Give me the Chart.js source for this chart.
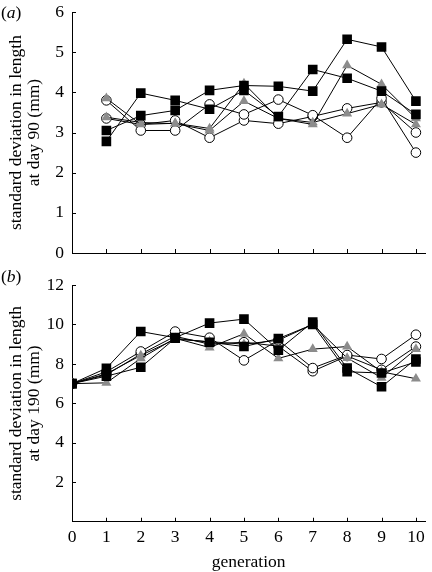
<!DOCTYPE html>
<html>
<head>
<meta charset="utf-8">
<script src="https://cdn.jsdelivr.net/npm/chart.js@4.4.1/dist/chart.umd.min.js"></script>
<style>
  html, body { margin: 0; padding: 0; background: #fff; }
  #wrap { position: relative; width: 432px; height: 572px; }
  canvas { position: absolute; left: 0; }
</style>
</head>
<body>
<div id="wrap">
  <canvas id="ca" width="432" height="264" style="top:0"></canvas>
  <canvas id="cb" width="432" height="308" style="top:264px"></canvas>
</div>
<script>
// ---- data ----
const generationsA = [1, 2, 3, 4, 5, 6, 7, 8, 9, 10];
const generationsB = [0, 1, 2, 3, 4, 5, 6, 7, 8, 9, 10];

// panel (a): standard deviation in length at day 90 (mm)
const aSquare1 = [3.05, 3.42, 3.55, 4.05, 4.17, 4.15, 4.03, 5.32, 5.13, 3.78];
const aSquare2 = [2.78, 3.98, 3.80, 3.58, 4.05, 3.40, 4.57, 4.35, 4.03, 3.45];
const aTriangle1 = [3.85, 3.20, 3.23, 3.10, 4.22, 3.35, 3.20, 4.67, 4.20, 3.35];
const aTriangle2 = [3.38, 3.25, 3.22, 3.05, 3.78, 3.35, 3.25, 3.47, 3.70, 3.20];
const aCircle1 = [3.80, 3.05, 3.05, 3.70, 3.45, 3.82, 3.43, 2.87, 3.85, 2.50];
const aCircle2 = [3.35, 3.20, 3.30, 2.87, 3.30, 3.22, 3.40, 3.60, 3.75, 3.00];

// panel (b): standard deviation in length at day 190 (mm)
const bSquare1 = [7.0, 7.78, 9.64, 9.33, 10.07, 10.27, 8.70, 10.12, 7.79, 6.84, 8.25];
const bSquare2 = [7.0, 7.38, 7.83, 9.30, 9.10, 8.88, 9.28, 10.00, 7.60, 7.54, 8.10];
const bTriangle1 = [7.0, 7.04, 8.28, 9.30, 8.83, 9.53, 8.28, 8.75, 8.88, 7.60, 7.25];
const bTriangle2 = [7.0, 7.50, 8.43, 9.25, 9.13, 9.00, 9.20, 10.00, 8.30, 7.30, 8.75];
const bCircle1 = [7.0, 7.60, 8.63, 9.64, 9.33, 8.18, 9.20, 7.79, 8.45, 8.25, 9.48];
const bCircle2 = [7.0, 7.45, 8.50, 9.40, 9.00, 9.10, 8.90, 7.63, 8.40, 7.70, 8.88];

const yTicksA = [0, 1, 2, 3, 4, 5, 6];
const yTicksB = [2, 4, 6, 8, 10, 12];
const xTicks = [0, 1, 2, 3, 4, 5, 6, 7, 8, 9, 10];

// ---- styling ----
const FONT = "'Liberation Serif', 'DejaVu Serif', serif";
const FS = 17.5;
const GREY = '#8c8c8c';
const styles = {
  square: { pointStyle: 'rect', pointRadius: 6.8, pointBackgroundColor: '#000', pointBorderColor: '#000', pointBorderWidth: 0 },
  triangle: { pointStyle: 'triangle', pointRadius: 5.8, pointBackgroundColor: GREY, pointBorderColor: GREY, pointBorderWidth: 0 },
  circle: { pointStyle: 'circle', pointRadius: 4.8, pointBackgroundColor: '#fff', pointBorderColor: '#000', pointBorderWidth: 1 }
};

function series(xs, ys, kind) {
  return Object.assign({
    data: xs.map((x, i) => ({ x: x, y: ys[i] })),
    borderColor: '#000',
    borderWidth: 1,
    showLine: true,
    tension: 0,
    fill: false
  }, styles[kind]);
}

// draws inward tick marks and the panel letter
function makeDecor(letter, yTicks, xTickList) {
  return {
    id: 'decor' + letter.ch,
    afterDraw(chart) {
      const ctx = chart.ctx;
      const ca = chart.chartArea;
      const xs = chart.scales.x, ys = chart.scales.y;
      ctx.save();
      ctx.strokeStyle = '#000';
      ctx.lineWidth = 1;
      ctx.beginPath();
      yTicks.forEach(v => {
        const py = Math.round(ys.getPixelForValue(v)) + 0.5;
        ctx.moveTo(ca.left, py); ctx.lineTo(ca.left + 4, py);
      });
      xTickList.forEach(v => {
        if (v === 0) return;
        const px = Math.round(xs.getPixelForValue(v)) + 0.5;
        ctx.moveTo(px, ca.bottom); ctx.lineTo(px, ca.bottom - 4);
      });
      ctx.stroke();
      // panel letter "(a)" with italic letter
      ctx.fillStyle = '#000';
      ctx.textBaseline = 'alphabetic';
      ctx.textAlign = 'left';
      const by = letter.baseY;
      ctx.font = FS + 'px ' + FONT;
      let x = 1;
      ctx.fillText('(', x, by); x += ctx.measureText('(').width;
      ctx.font = 'italic ' + FS + 'px ' + FONT;
      ctx.fillText(letter.ch, x, by); x += ctx.measureText(letter.ch).width;
      ctx.font = FS + 'px ' + FONT;
      ctx.fillText(')', x, by);
      ctx.restore();
    }
  };
}

function baseOptions(yMin, yMax, yStep, titleLines, showX, padTop) {
  return {
    responsive: false,
    animation: false,
    events: [],
    layout: { padding: { top: padTop, right: 0, left: 0, bottom: 0 } },
    plugins: { legend: { display: false }, tooltip: { enabled: false } },
    scales: {
      x: {
        type: 'linear', min: 0, max: 10.27,
        afterBuildTicks(s) { s.ticks = xTicks.map(v => ({ value: v })); },
        grid: { display: false, drawTicks: false },
        border: { display: true, color: '#000', width: 1 },
        ticks: {
          display: showX, color: '#000', padding: 5, maxRotation: 0, autoSkip: false,
          font: { family: FONT, size: FS }
        },
        title: {
          display: showX, text: 'generation', color: '#000',
          font: { family: FONT, size: FS, lineHeight: 1.1 }, padding: { top: 0, bottom: 0 }
        },
        afterFit(s) { s.paddingLeft = 0; s.paddingRight = 0; }
      },
      y: {
        type: 'linear', min: yMin, max: yMax,
        ticks: { stepSize: yStep, color: '#000', padding: 8, font: { family: FONT, size: FS } },
        grid: { display: false, drawTicks: false },
        border: { display: true, color: '#000', width: 1 },
        title: {
          display: true, text: titleLines, color: '#000',
          font: { family: FONT, size: FS, lineHeight: 1.04 }, padding: { top: 7, bottom: 0 }
        },
        afterFit(s) { s.width = 72; s.paddingTop = 0; s.paddingBottom = 0; }
      }
    }
  };
}

const dsA = [
  series(generationsA, aSquare1, 'square'),
  series(generationsA, aSquare2, 'square'),
  series(generationsA, aTriangle1, 'triangle'),
  series(generationsA, aTriangle2, 'triangle'),
  series(generationsA, aCircle1, 'circle'),
  series(generationsA, aCircle2, 'circle')
];
const dsB = [
  series(generationsB, bSquare1, 'square'),
  series(generationsB, bSquare2, 'square'),
  series(generationsB, bTriangle1, 'triangle'),
  series(generationsB, bTriangle2, 'triangle'),
  series(generationsB, bCircle1, 'circle'),
  series(generationsB, bCircle2, 'circle')
];

const optA = baseOptions(0, 6, 1, ['standard deviation in length', 'at day 90 (mm)'], false, 12);
optA.layout.padding.bottom = 11;
new Chart(document.getElementById('ca'), {
  type: 'scatter',
  data: { datasets: dsA },
  options: optA,
  plugins: [makeDecor({ ch: 'a', baseY: 18 }, yTicksA, xTicks)]
});

const optB = baseOptions(0, 12, 2, ['standard deviation in length', 'at day 190 (mm)'], true, 21);
optB.scales.y.ticks.callback = v => (v === 0 ? '' : v);
new Chart(document.getElementById('cb'), {
  type: 'scatter',
  data: { datasets: dsB },
  options: optB,
  plugins: [makeDecor({ ch: 'b', baseY: 18 }, yTicksB, xTicks)]
});
</script>
</body>
</html>
